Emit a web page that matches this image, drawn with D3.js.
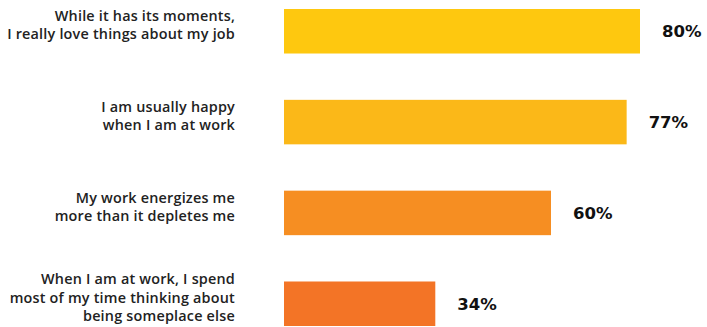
<!DOCTYPE html>
<html>
<head>
<meta charset="utf-8">
<script src="https://cdn.jsdelivr.net/npm/d3@7"></script>
<style>
  html, body { margin: 0; padding: 0; background: #fff; }
  svg { display: block; }
</style>
</head>
<body>
<svg id="chart" width="707" height="327"></svg>
<script>
// Survey statements and share of respondents agreeing
const statements = [
  ["While it has its moments,", "I really love things about my job"],
  ["I am usually happy", "when I am at work"],
  ["My work energizes me", "more than it depletes me"],
  ["When I am at work, I spend", "most of my time thinking about", "being someplace else"]
];
const values = [80, 77, 60, 34];
const barColors = ["#FEC80F", "#FBB818", "#F68E22", "#F37426"];

const svg = d3.select("#chart");
const keys = statements.map((d, i) => i);

const x = d3.scaleLinear().domain([0, 100]).range([284, 729]);
const y = d3.scaleBand().domain(keys).range([9, 326]).paddingInner(0.51).paddingOuter(0);

// Bars
svg.selectAll("rect.bar")
  .data(keys)
  .join("rect")
  .attr("class", "bar")
  .attr("x", x(0))
  .attr("y", i => y(i))
  .attr("width", i => x(values[i]) - x(0))
  .attr("height", y.bandwidth())
  .attr("fill", i => barColors[i]);

// Value labels
svg.selectAll("text.value")
  .data(keys)
  .join("text")
  .attr("class", "value")
  .attr("x", i => x(values[i]) + 22)
  .attr("y", i => y(i) + y.bandwidth() / 2)
  .attr("dy", "0.37em")
  .attr("font-family", "'DejaVu Sans', sans-serif")
  .attr("font-weight", 700)
  .attr("font-size", 16.5)
  .attr("fill", "#111")
  .text(i => values[i] + "%");

// Category labels, right-aligned and centred on each bar
const lineH = 18.3;
const labels = svg.selectAll("text.cat")
  .data(keys)
  .join("text")
  .attr("class", "cat")
  .attr("text-anchor", "end")
  .attr("font-family", "'Open Sans', sans-serif")
  .attr("font-weight", 600)
  .attr("font-size", 14.4)
  .attr("letter-spacing", 0.2)
  .attr("fill", "#222");

labels.each(function(i) {
  const lines = statements[i];
  const cy = y(i) + y.bandwidth() / 2;
  const first = cy - (lines.length - 1) * lineH / 2;
  d3.select(this).selectAll("tspan")
    .data(lines)
    .join("tspan")
    .attr("x", 235)
    .attr("y", (d, k) => first + k * lineH - 1)
    .text(d => d);
});
</script>
</body>
</html>
